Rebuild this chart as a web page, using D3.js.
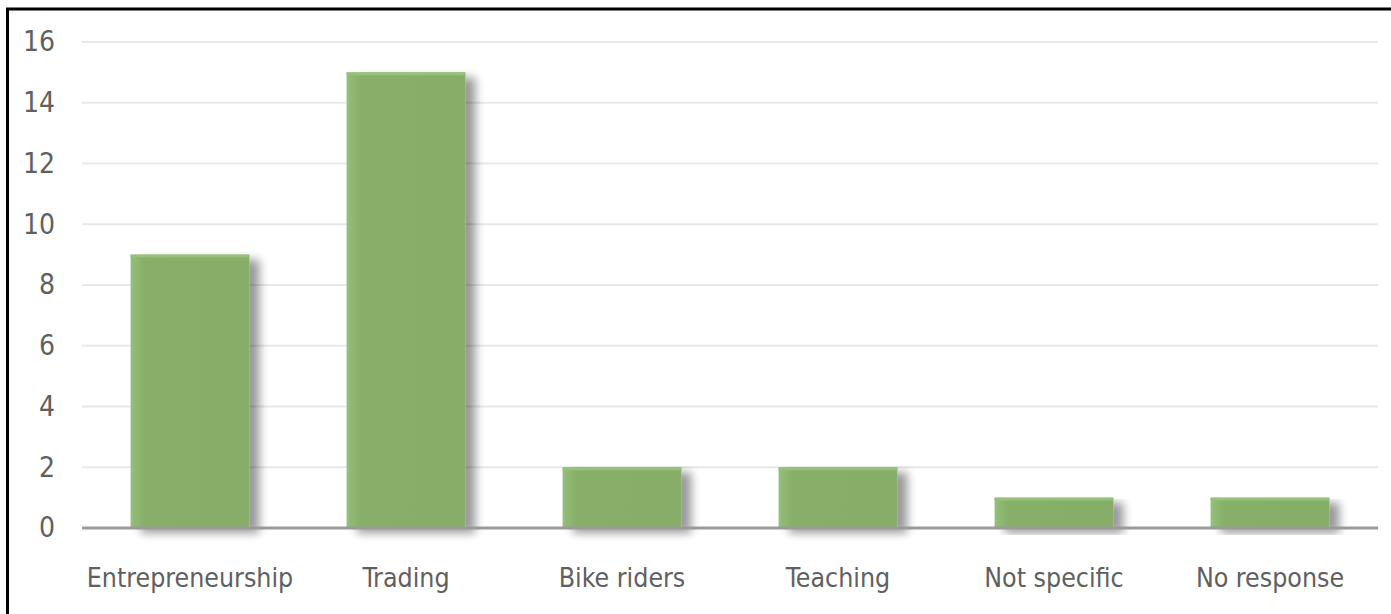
<!DOCTYPE html>
<html>
<head>
<meta charset="utf-8">
<script src="https://cdn.jsdelivr.net/npm/d3@7"></script>
<style>
  body { margin: 0; background: #fff; }
  svg { display: block; }
  .axis text { font-family: "DejaVu Sans Condensed", "Liberation Sans Narrow", sans-serif; fill: #606060; }
</style>
</head>
<body>
<svg id="chart" width="1391" height="614"></svg>
<script>
const categories = ['Entrepreneurship', 'Trading', 'Bike riders', 'Teaching', 'Not specific', 'No response'];
const values = [9, 15, 2, 2, 1, 1];
const yTicks = [0, 2, 4, 6, 8, 10, 12, 14, 16];

const margin = {top: 42, right: 13, bottom: 86, left: 82};
const W = 1391, H = 614;
const width = W - margin.left - margin.right;
const height = H - margin.top - margin.bottom;

const svg = d3.select('#chart');

// frame
svg.append('rect')
  .attr('x', 7.5).attr('y', 9)
  .attr('width', W + 20).attr('height', H + 20)
  .attr('fill', 'none')
  .attr('stroke', '#000')
  .attr('stroke-width', 3);

// shadow filter
const defs = svg.append('defs');
const f = defs.append('filter').attr('id', 'shadow')
  .attr('x', '-10%').attr('y', '-10%').attr('width', '140%').attr('height', '130%');
f.append('feGaussianBlur').attr('in', 'SourceAlpha').attr('stdDeviation', 5).attr('result', 'blur');
f.append('feOffset').attr('in', 'blur').attr('dx', 10).attr('dy', 5).attr('result', 'off');
f.append('feComponentTransfer').attr('in', 'off').attr('result', 'sh')
  .append('feFuncA').attr('type', 'linear').attr('slope', 0.4);
const m = f.append('feMerge');
m.append('feMergeNode').attr('in', 'sh');
m.append('feMergeNode').attr('in', 'SourceGraphic');

const grad = defs.append('linearGradient').attr('id', 'barfill')
  .attr('x1', 0).attr('y1', 0).attr('x2', 1).attr('y2', 0);
grad.append('stop').attr('offset', '0%').attr('stop-color', '#93bf78');
grad.append('stop').attr('offset', '12%').attr('stop-color', '#87af69');
grad.append('stop').attr('offset', '100%').attr('stop-color', '#86ae68');

const g = svg.append('g')
  .attr('transform', 'translate(' + margin.left + ',' + margin.top + ')');

// scales
const x = d3.scaleBand().domain(categories).range([0, width])
  .paddingInner(0.45).paddingOuter(0.225);
const y = d3.scaleLinear().domain([0, 16]).range([height, 0]);

// gridlines
g.append('g')
  .selectAll('line')
  .data(yTicks.filter(d => d > 0))
  .join('line')
  .attr('x1', 0).attr('x2', width)
  .attr('y1', d => y(d)).attr('y2', d => y(d))
  .attr('stroke', '#e8e8e8')
  .attr('stroke-width', 2);

// bars
g.append('g')
  .selectAll('rect')
  .data(values)
  .join('rect')
  .attr('x', (d, i) => x(categories[i]))
  .attr('y', d => y(d))
  .attr('width', x.bandwidth())
  .attr('height', d => y(0) - y(d))
  .attr('fill', 'url(#barfill)')
  .attr('filter', 'url(#shadow)');

// bar top highlight
g.append('g')
  .selectAll('rect')
  .data(values)
  .join('rect')
  .attr('x', (d, i) => x(categories[i]))
  .attr('y', d => y(d))
  .attr('width', x.bandwidth())
  .attr('height', 3)
  .attr('fill', '#95c17b');

// baseline
g.append('line')
  .attr('x1', 0).attr('x2', width)
  .attr('y1', y(0)).attr('y2', y(0))
  .attr('stroke', '#9a9a9a')
  .attr('stroke-width', 3);

// y-axis
const yAxis = g.append('g')
  .attr('class', 'axis axis-y')
  .call(d3.axisLeft(y).tickValues(yTicks).tickSize(0).tickPadding(27));
yAxis.select('.domain').remove();
yAxis.selectAll('text').style('font-size', '28px');

// x-axis
const xAxis = g.append('g')
  .attr('class', 'axis axis-x')
  .attr('transform', 'translate(0,' + height + ')')
  .call(d3.axisBottom(x).tickSize(0).tickPadding(40));
xAxis.select('.domain').remove();
xAxis.selectAll('text').style('font-size', '26.5px');
</script>
</body>
</html>
